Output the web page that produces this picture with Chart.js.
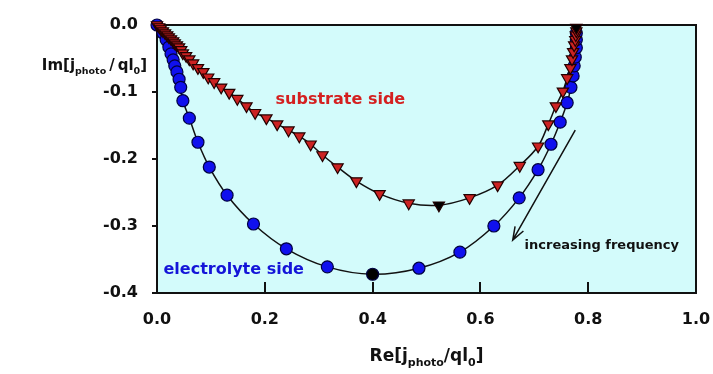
<!DOCTYPE html>
<html>
<head>
<meta charset="utf-8">
<script src="https://cdn.jsdelivr.net/npm/chart.js@4"></script>
<style>
  html, body { margin: 0; padding: 0; background: #fff; }
  #wrap { width: 713px; height: 374px; }
</style>
</head>
<body>
<div id="wrap"><canvas id="nyquist"></canvas></div>
<script>
// electrolyte side (blue circles)
const eRe = [0, 0.011, 0.017, 0.022, 0.026, 0.030, 0.033, 0.037, 0.041, 0.044, 0.048, 0.060, 0.076, 0.097, 0.130, 0.179, 0.240, 0.316, 0.400, 0.486, 0.562, 0.625, 0.672, 0.707, 0.731, 0.748, 0.761, 0.768, 0.772, 0.774, 0.776, 0.778, 0.778, 0.778];
const eIm = [0, -0.012, -0.022, -0.033, -0.043, -0.052, -0.061, -0.070, -0.081, -0.093, -0.113, -0.139, -0.175, -0.212, -0.254, -0.297, -0.334, -0.361, -0.372, -0.363, -0.339, -0.300, -0.258, -0.216, -0.178, -0.145, -0.116, -0.093, -0.076, -0.061, -0.048, -0.034, -0.022, -0.012];
const eMarked = [18];

// substrate side (red triangles)
const sRe = [0, 0.004, 0.007, 0.011, 0.015, 0.019, 0.022, 0.026, 0.030, 0.033, 0.037, 0.041, 0.045, 0.048, 0.054, 0.060, 0.067, 0.076, 0.086, 0.095, 0.106, 0.119, 0.134, 0.149, 0.166, 0.182, 0.203, 0.223, 0.244, 0.264, 0.285, 0.307, 0.335, 0.370, 0.413, 0.467, 0.523, 0.580, 0.632, 0.673, 0.707, 0.726, 0.740, 0.753, 0.761, 0.767, 0.770, 0.772, 0.774, 0.776, 0.777, 0.778, 0.778];
const sIm = [0, -0.003, -0.006, -0.009, -0.012, -0.015, -0.018, -0.021, -0.024, -0.027, -0.030, -0.033, -0.037, -0.042, -0.046, -0.051, -0.057, -0.064, -0.070, -0.078, -0.085, -0.093, -0.101, -0.110, -0.121, -0.131, -0.139, -0.148, -0.157, -0.166, -0.178, -0.194, -0.212, -0.233, -0.252, -0.266, -0.269, -0.258, -0.239, -0.210, -0.181, -0.148, -0.121, -0.099, -0.079, -0.064, -0.051, -0.040, -0.030, -0.022, -0.015, -0.009, -0.004];
const sMarked = [36, 52];

const xTicks = [0, 0.2, 0.4, 0.6, 0.8, 1.0];
const yTicks = [0, -0.1, -0.2, -0.3, -0.4];

// annotations, in data units
const notes = [
  { text: 'substrate side', x: 0.220, y: -0.112, color: '#d42020', size: 16 },
  { text: 'electrolyte side', x: 0.012, y: -0.366, color: '#1414d8', size: 16 },
  { text: 'increasing frequency', x: 0.682, y: -0.329, color: '#111', size: 13 },
];
const arrow = { x0: 0.776, y0: -0.157, x1: 0.660, y1: -0.321 };

const FONT = "'DejaVu Sans', sans-serif";
const pts = (xs, ys) => xs.map((x, i) => ({ x, y: ys[i] }));
const fills = (n, marked, base) => Array.from({ length: n }, (_, i) => marked.includes(i) ? '#000' : base);

function drawRich(ctx, parts, x, y, align) {
  let w = 0;
  parts.forEach(p => { ctx.font = `bold ${p.size}px ${FONT}`; w += ctx.measureText(p.t).width; });
  let cx = align === 'right' ? x - w : align === 'center' ? x - w / 2 : x;
  ctx.textAlign = 'left';
  ctx.textBaseline = 'alphabetic';
  parts.forEach(p => {
    ctx.font = `bold ${p.size}px ${FONT}`;
    ctx.fillText(p.t, cx, y + (p.dy || 0));
    cx += ctx.measureText(p.t).width;
  });
}

const decor = {
  id: 'decor',
  beforeDatasetsDraw(chart) {
    const { ctx, chartArea: a, scales: { x, y } } = chart;
    ctx.save();
    ctx.fillStyle = '#d3fbfb';
    ctx.fillRect(a.left, a.top, a.right - a.left, a.bottom - a.top);
    ctx.strokeStyle = '#111';
    ctx.lineWidth = 2;
    ctx.strokeRect(a.left, a.top, a.right - a.left, a.bottom - a.top);
    ctx.beginPath();
    xTicks.slice(1, -1).forEach(v => {
      const px = Math.round(x.getPixelForValue(v));
      ctx.moveTo(px, a.bottom); ctx.lineTo(px, a.bottom - 11);
    });
    yTicks.forEach(v => {
      const py = Math.round(y.getPixelForValue(v));
      ctx.moveTo(a.left, py); ctx.lineTo(a.left - 5, py);
    });
    ctx.stroke();

    ctx.textBaseline = 'middle';
    notes.forEach(n => {
      ctx.fillStyle = n.color;
      ctx.font = `bold ${n.size}px ${FONT}`;
      ctx.textAlign = 'left';
      ctx.fillText(n.text, x.getPixelForValue(n.x), y.getPixelForValue(n.y));
    });
    ctx.restore();
  },
  afterDraw(chart) {
    const { ctx, chartArea: a, scales: { x, y } } = chart;
    ctx.save();
    // arrow
    const x0 = x.getPixelForValue(arrow.x0), y0 = y.getPixelForValue(arrow.y0);
    const x1 = x.getPixelForValue(arrow.x1), y1 = y.getPixelForValue(arrow.y1);
    const ang = Math.atan2(y1 - y0, x1 - x0);
    ctx.strokeStyle = '#111';
    ctx.lineWidth = 1.5;
    ctx.beginPath();
    ctx.moveTo(x0, y0); ctx.lineTo(x1, y1);
    ctx.moveTo(x1 - 14 * Math.cos(ang - 0.35), y1 - 14 * Math.sin(ang - 0.35));
    ctx.lineTo(x1, y1);
    ctx.lineTo(x1 - 14 * Math.cos(ang + 0.35), y1 - 14 * Math.sin(ang + 0.35));
    ctx.stroke();

    // axis titles
    ctx.fillStyle = '#111';
    drawRich(ctx, [
      { t: 'Im[j', size: 15 }, { t: 'photo', size: 9.5, dy: 4 },
      { t: '\u2009/\u2009ql', size: 15 }, { t: '0', size: 9.5, dy: 4 }, { t: ']', size: 15 },
    ], a.left - 10, 70, 'right');
    drawRich(ctx, [
      { t: 'Re[j', size: 17 }, { t: 'photo', size: 11, dy: 5 },
      { t: '/ql', size: 17 }, { t: '0', size: 11, dy: 5 }, { t: ']', size: 17 },
    ], (a.left + a.right) / 2, 361, 'center');
    ctx.restore();
  },
};

const tickFont = { family: FONT, size: 16, weight: 'bold' };

new Chart(document.getElementById('nyquist'), {
  type: 'scatter',
  data: {
    datasets: [
      {
        label: 'substrate side',
        data: pts(sRe, sIm),
        showLine: true,
        borderColor: '#111',
        borderWidth: 1.5,
        tension: 0.35,
        pointStyle: 'triangle',
        rotation: 180,
        pointRadius: 6.5,
        pointBorderWidth: 1.2,
        pointBorderColor: '#220000',
        pointBackgroundColor: fills(sRe.length, sMarked, '#cc2222'),
        clip: false,
      },
      {
        label: 'electrolyte side',
        data: pts(eRe, eIm),
        showLine: true,
        borderColor: '#111',
        borderWidth: 1.5,
        tension: 0.35,
        pointStyle: 'circle',
        pointRadius: 6,
        pointBorderWidth: 1.2,
        pointBorderColor: '#000040',
        pointBackgroundColor: fills(eRe.length, eMarked, '#1010ee'),
        clip: false,
      },
    ],
  },
  options: {
    responsive: true,
    maintainAspectRatio: false,
    animation: false,
    layout: { padding: { top: 25, right: 17, left: 0, bottom: 0 } },
    plugins: { legend: { display: false }, tooltip: { enabled: false } },
    scales: {
      x: {
        type: 'linear', min: 0, max: 1,
        grid: { display: false, drawTicks: false },
        border: { display: false },
        afterBuildTicks: s => { s.ticks = xTicks.map(v => ({ value: v })); },
        afterFit: s => { s.height = 81; s.paddingLeft = 0; s.paddingRight = 0; },
        ticks: { color: '#111', font: tickFont, padding: 17, callback: v => v.toFixed(1) },
      },
      y: {
        type: 'linear', min: -0.4, max: 0,
        grid: { display: false, drawTicks: false },
        border: { display: false },
        afterBuildTicks: s => { s.ticks = yTicks.map(v => ({ value: v })); },
        afterFit: s => { s.width = 157; s.paddingTop = 0; s.paddingBottom = 0; },
        ticks: { color: '#111', font: tickFont, padding: 19, callback: v => v.toFixed(1) },
      },
    },
  },
  plugins: [decor],
});
</script>
</body>
</html>
